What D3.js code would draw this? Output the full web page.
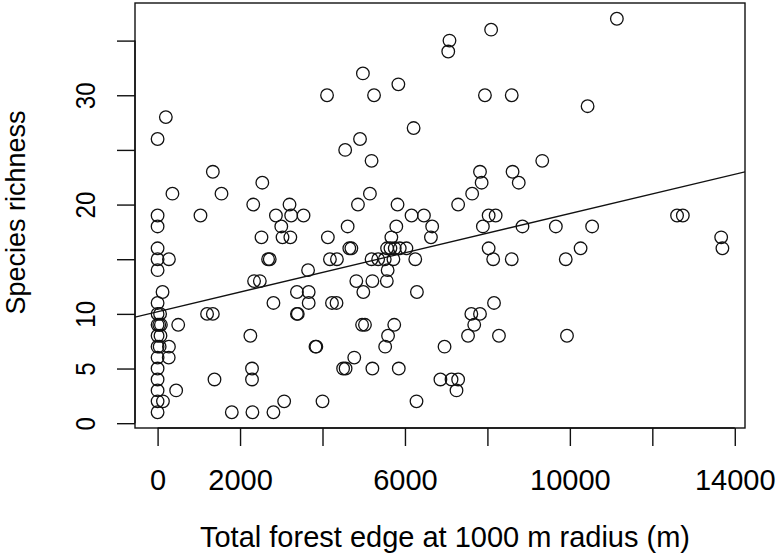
<!DOCTYPE html>
<html>
<head>
<meta charset="utf-8">
<script src="https://cdn.jsdelivr.net/npm/d3@7"></script>
<style>
  html, body { margin: 0; padding: 0; background: #fff; }
  svg { display: block; }
  text { font-family: "Liberation Sans", Arial, Helvetica, sans-serif; fill: #000; }
</style>
</head>
<body>
<svg id="chart" width="777" height="556"></svg>
<script>
// ---- data ----
const forestEdge = [
  0, 0, 130, 0, 450, 0, 0, 0, 270, 0, 275, 50, 0, 70, 0, 40, 80, 500, 0, 60, 0, 120,
  0, 0, 275, 0, 0, 0, 0, 200, 360,
  1040, 1340, 1550, 1200, 1340, 1380, 1800,
  2320, 2540, 2870, 3000, 2520, 3030, 3220, 3200, 3240, 3540,
  2680, 2720, 2340, 2480, 2250, 2290, 2290, 2300, 2810, 2810,
  3380, 3665, 3665, 3380, 3400, 3650, 3830, 3850, 3070, 4000,
  4110, 4130, 4180, 4350, 4230, 4340, 4500, 4560, 4550, 4610, 4650, 4700, 4770, 4820,
  4860, 4910, 4980, 4960, 5030, 4990, 5150, 5190, 5190, 5350, 5510, 5720, 5210, 5210, 5250,
  5566, 5648, 5752, 5874, 6036, 5560, 5580, 5590, 5520, 5670, 5740, 5790, 5820, 5840, 5850,
  6160, 6460, 6210, 6250, 6290, 6280, 6630, 6660, 6860, 6960, 7050, 7080,
  7130, 7290, 7250, 7290, 7530, 7610, 7820, 7630, 7680, 7820, 7860, 7890, 7940,
  8030, 8200, 8030, 8090, 8140, 8160, 8280, 8590, 8590, 8610, 8760, 8850,
  9330, 9660, 9900, 9930, 10260, 10430, 10540, 11140, 12600, 12740, 13670, 13700
];
const richness = [
  1, 2, 2, 3, 3, 4, 5, 6, 6, 7, 7, 7, 8, 8, 9, 9, 9, 9, 10, 10, 11, 12,
  14, 15, 15, 16, 18, 19, 26, 28, 21,
  19, 23, 21, 10, 10, 4, 1,
  20, 22, 19, 18, 17, 17, 17, 20, 19, 19,
  15, 15, 13, 13, 8, 5, 4, 1, 1, 11,
  12, 12, 11, 10, 10, 14, 7, 7, 2, 2,
  30, 17, 15, 15, 11, 11, 5, 5, 25, 18, 16, 16, 6, 13,
  20, 26, 32, 9, 9, 12, 21, 24, 15, 15, 15, 15, 13, 5, 30,
  16, 16, 16, 16, 16, 13, 14, 8, 7, 17, 9, 18, 20, 31, 5,
  19, 19, 27, 15, 12, 2, 17, 18, 4, 7, 34, 35,
  4, 4, 3, 20, 8, 10, 10, 21, 9, 23, 22, 18, 30,
  19, 19, 16, 36, 15, 11, 8, 15, 30, 23, 22, 18,
  24, 18, 15, 8, 16, 29, 18, 37, 19, 19, 17, 16
];
const xTicks = [0, 2000, 4000, 6000, 8000, 10000, 12000, 14000];
const xTickLabels = [0, 2000, 6000, 10000, 14000];
const yTicks = [0, 5, 10, 15, 20, 25, 30, 35];
const yTickLabels = [0, 5, 10, 20, 30];
const xDomain = [-548, 14248];
const yDomain = [-0.44, 38.44];
const fitIntercept = 10.2;
const fitSlope = 0.000898;
const xTitle = "Total forest edge at 1000 m radius (m)";
const yTitle = "Species richness";

// ---- layout ----
const plot = { left: 135, right: 745, top: 3, bottom: 428 };
const svg = d3.select("#chart");

const x = d3.scaleLinear().domain(xDomain).range([plot.left, plot.right]);
const y = d3.scaleLinear().domain(yDomain).range([plot.bottom, plot.top]);

// points
const pts = forestEdge.map((v, i) => ({ x: v, y: richness[i] }));
svg.append("g")
  .selectAll("circle")
  .data(pts)
  .join("circle")
  .attr("cx", d => x(d.x))
  .attr("cy", d => y(d.y))
  .attr("r", 6.3)
  .attr("fill", "none")
  .attr("stroke", "#111")
  .attr("stroke-width", 1.3);

// regression line clipped to plot region
svg.append("clipPath").attr("id", "clip")
  .append("rect")
  .attr("x", plot.left).attr("y", plot.top)
  .attr("width", plot.right - plot.left).attr("height", plot.bottom - plot.top);

svg.append("line")
  .attr("clip-path", "url(#clip)")
  .attr("x1", x(xDomain[0])).attr("y1", y(fitIntercept + fitSlope * xDomain[0]))
  .attr("x2", x(xDomain[1])).attr("y2", y(fitIntercept + fitSlope * xDomain[1]))
  .attr("stroke", "#111")
  .attr("stroke-width", 1.3);

// box
svg.append("rect")
  .attr("x", plot.left).attr("y", plot.top)
  .attr("width", plot.right - plot.left).attr("height", plot.bottom - plot.top)
  .attr("fill", "none")
  .attr("stroke", "#111")
  .attr("stroke-width", 1.4);

// x axis
const xAxis = d3.axisBottom(x)
  .tickValues(xTicks)
  .tickSize(18)
  .tickSizeOuter(0)
  .tickFormat(d => xTickLabels.includes(d) ? String(d) : "");
const gx = svg.append("g")
  .attr("transform", `translate(0,${plot.bottom})`)
  .call(xAxis);
gx.select(".domain").remove();
gx.append("line")
  .attr("x1", x(xTicks[0])).attr("x2", x(xTicks[xTicks.length - 1]))
  .attr("stroke", "#111").attr("stroke-width", 1.4);
gx.selectAll(".tick line").attr("stroke", "#111").attr("stroke-width", 1.4);
gx.selectAll(".tick text")
  .attr("y", 62).attr("dy", null)
  .style("font-size", "29px")
  .style("font-family", '"Liberation Sans", Arial, sans-serif')
  .attr("fill", "#000");

// y axis
const yAxis = d3.axisLeft(y)
  .tickValues(yTicks)
  .tickSize(18)
  .tickSizeOuter(0)
  .tickFormat(d => yTickLabels.includes(d) ? String(d) : "");
const gy = svg.append("g")
  .attr("transform", `translate(${plot.left},0)`)
  .call(yAxis);
gy.select(".domain").remove();
gy.append("line")
  .attr("y1", y(yTicks[0])).attr("y2", y(yTicks[yTicks.length - 1]))
  .attr("stroke", "#111").attr("stroke-width", 1.4);
gy.selectAll(".tick line").attr("stroke", "#111").attr("stroke-width", 1.4);
gy.selectAll(".tick text")
  .attr("x", null).attr("dy", null)
  .attr("text-anchor", "middle")
  .attr("transform", "translate(-40,0) rotate(-90) scale(0.86,1)")
  .style("font-size", "28px")
  .style("font-family", '"Liberation Sans", Arial, sans-serif')
  .attr("fill", "#000");

// titles
svg.append("text")
  .attr("x", (plot.left + plot.right) / 2 + 5)
  .attr("y", 547)
  .attr("text-anchor", "middle")
  .style("font-size", "29px")
  .text(xTitle);

svg.append("text")
  .attr("transform", `translate(25,${(plot.top + plot.bottom) / 2 - 3}) rotate(-90)`)
  .attr("text-anchor", "middle")
  .style("font-size", "27px")
  .text(yTitle);
</script>
</body>
</html>
